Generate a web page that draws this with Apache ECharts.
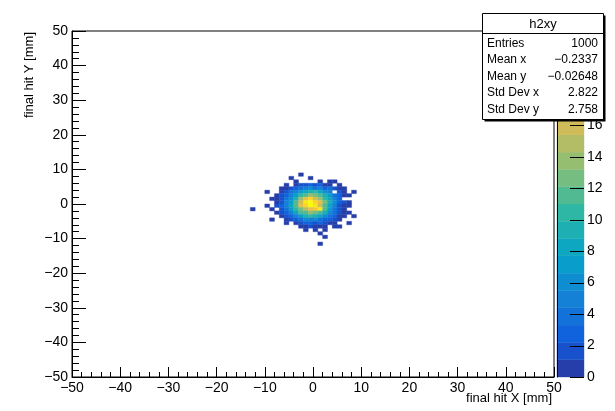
<!DOCTYPE html>
<html>
<head>
<meta charset="utf-8">
<script src="https://cdn.jsdelivr.net/npm/echarts@6/dist/echarts.min.js"></script>
<style>
  html, body { margin: 0; padding: 0; background: #fff; }
  #chart { width: 615px; height: 411px; }
</style>
</head>
<body>
<div id="chart"></div>
<script>
// Lower edges of the 1 mm bins that hold entries (x to the right, y from top row down)
const binLowX = [-13, -12, -11, -10, -9, -8, -7, -6, -5, -4, -3, -2, -1, 0, 1, 2, 3, 4, 5, 6, 7, 8];
const binLowY = [8, 7, 6, 5, 4, 3, 2, 1, 0, -1, -2, -3, -4, -5, -6, -7, -8, -9, -10, -11, -12];

// Bin contents, one row per y bin (same order as binLowY), one column per x bin
const counts = [
  [0,0,0,0,0,0,0,0,0,0,1,0,0,0,0,0,0,0,0,0,0,0],
  [0,0,0,0,0,0,0,0,1,0,0,0,1,0,0,0,0,0,0,0,0,0],
  [0,0,0,0,0,0,0,0,0,1,0,0,0,0,1,0,1,1,0,0,0,0],
  [0,0,0,0,0,0,0,1,0,1,2,2,3,2,3,1,1,0,1,0,0,0],
  [0,0,0,0,0,0,1,1,2,3,4,5,6,4,5,3,4,2,1,1,0,0],
  [0,0,0,1,0,0,1,2,4,5,7,8,9,10,8,6,5,0,2,1,0,1],
  [0,0,0,0,0,1,2,3,5,7,10,12,14,13,12,9,7,4,3,1,1,0],
  [0,0,0,0,1,1,2,4,6,9,14,17,19,16,14,10,8,5,3,0,0,0],
  [0,0,0,0,0,1,2,5,7,11,16,20,21,19,17,13,9,6,3,2,1,0],
  [0,0,0,1,0,2,3,5,8,12,17,19,22,20,16,12,8,5,2,1,1,0],
  [1,0,0,0,1,0,2,4,7,10,13,15,17,18,20,11,7,4,2,1,0,0],
  [0,0,0,0,0,1,2,3,5,8,11,12,14,13,11,9,6,4,2,1,1,0],
  [0,0,0,0,0,0,1,2,3,5,7,9,10,9,8,6,4,3,1,1,0,1],
  [0,0,0,0,1,0,0,1,2,3,4,6,5,6,4,3,3,2,1,0,0,0],
  [0,0,0,0,0,0,0,1,0,1,2,3,3,2,3,2,1,1,0,0,1,0],
  [0,0,0,0,0,0,0,0,0,0,1,1,2,1,1,1,0,1,1,0,0,0],
  [0,0,0,0,0,0,0,0,0,0,0,1,0,1,0,1,0,0,0,0,0,0],
  [0,0,0,0,0,0,0,0,0,0,0,0,0,0,1,0,0,0,0,0,0,0],
  [0,0,0,0,0,0,0,0,0,0,0,0,0,0,0,1,0,0,0,0,0,0],
  [0,0,0,0,0,0,0,0,0,0,0,0,0,0,0,0,0,0,0,0,0,0],
  [0,0,0,0,0,0,0,0,0,0,0,0,0,0,1,0,0,0,0,0,0,0]
];

// Statistics panel
const statsTitle = 'h2xy';
const statLabels = ['Entries', 'Mean x', 'Mean y', 'Std Dev x', 'Std Dev y'];
const statValues = ['1000', '\u22120.2337', '\u22120.02648', '2.822', '2.758'];

// Axis titles
const xTitle = 'final hit X [mm]';
const yTitle = 'final hit Y [mm]';

// Colour scale
const zMax = 22;
const nContours = 20;
const zTicks = [0, 2, 4, 6, 8, 10, 12, 14, 16, 18, 20, 22];

// "Bird" palette stops
const birdStops = [0.0, 0.125, 0.25, 0.375, 0.5, 0.625, 0.75, 0.875, 1.0];
const birdR = [0.2082, 0.0592, 0.0780, 0.0232, 0.1802, 0.5301, 0.8186, 0.9956, 0.9764];
const birdG = [0.1664, 0.3599, 0.5041, 0.6419, 0.7178, 0.7492, 0.7328, 0.7862, 0.9832];
const birdB = [0.5293, 0.8684, 0.8385, 0.7914, 0.6425, 0.4662, 0.3499, 0.1968, 0.0539];

function bird(t) {
  let i = 0;
  while (i < birdStops.length - 2 && t > birdStops[i + 1]) i++;
  const f = Math.min(1, Math.max(0, (t - birdStops[i]) / (birdStops[i + 1] - birdStops[i])));
  const c = a => Math.round(255 * (a[i] + (a[i + 1] - a[i]) * f));
  return 'rgb(' + c(birdR) + ',' + c(birdG) + ',' + c(birdB) + ')';
}

const bandColors = [];
for (let i = 0; i < nContours; i++) bandColors.push(bird((i + 0.99) / nContours));

function colorFor(v) {
  let b = Math.floor(0.01 + v / (zMax / nContours));
  if (b < 0) b = 0;
  if (b > nContours - 1) b = nContours - 1;
  return bandColors[b];
}

// Cells [xLow, yLow, content] for non-empty bins
const cells = [];
counts.forEach((row, r) => {
  row.forEach((v, c) => {
    if (v > 0) cells.push([binLowX[c], binLowY[r], v]);
  });
});

// Colour-bar bands [low, high, index]
const bands = [];
for (let i = 0; i < nContours; i++) {
  bands.push([i * zMax / nContours, (i + 1) * zMax / nContours, i]);
}

const FONT = '"Liberation Sans", Arial, Helvetica, sans-serif';
const fmtMinus = v => String(v).replace('-', '\u2212');

const chart = echarts.init(document.getElementById('chart'), null, { renderer: 'canvas' });

const frameAxis = (extra) => Object.assign({
  type: 'value',
  min: -50,
  max: 50,
  interval: 10,
  z: 5,
  axisLine: { show: true, onZero: false, lineStyle: { color: '#000', width: 1 } },
  splitLine: { show: false },
  axisLabel: { color: '#000', fontSize: 14, fontFamily: FONT, formatter: fmtMinus }
}, extra);

const statsGraphics = [
  { type: 'rect', z: 100, shape: { x: 484.5, y: 15.5, width: 121, height: 106 }, style: { fill: '#000' } },
  { type: 'rect', z: 101, shape: { x: 482.5, y: 13.5, width: 121, height: 106 }, style: { fill: '#fff', stroke: '#000', lineWidth: 1 } },
  { type: 'line', z: 102, shape: { x1: 482.5, y1: 33.5, x2: 603.5, y2: 33.5 }, style: { stroke: '#000', lineWidth: 1 } },
  { type: 'text', z: 102, x: 543, y: 24, style: { text: statsTitle, font: '13px ' + FONT, fill: '#000', align: 'center', verticalAlign: 'middle' } }
];
statLabels.forEach((lab, i) => {
  const y = 43.5 + i * 16.5;
  statsGraphics.push({ type: 'text', z: 102, x: 487, y: y, style: { text: lab, font: '12px ' + FONT, fill: '#000', align: 'left', verticalAlign: 'middle' } });
  statsGraphics.push({ type: 'text', z: 102, x: 598, y: y, style: { text: statValues[i], font: '12px ' + FONT, fill: '#000', align: 'right', verticalAlign: 'middle' } });
});

const option = {
  backgroundColor: '#fff',
  animation: false,
  grid: [
    { left: 72, top: 31, width: 482, height: 346, show: true, borderColor: '#000', borderWidth: 1, backgroundColor: 'transparent' },
    { left: 557, top: 31, width: 27, height: 346, show: false }
  ],
  xAxis: [
    frameAxis({
      gridIndex: 0,
      axisTick: { show: true, inside: true, length: 10, lineStyle: { color: '#000' } },
      minorTick: { show: true, splitNumber: 5, length: 5, lineStyle: { color: '#000' } },
      axisLabel: { color: '#000', fontSize: 14, fontFamily: FONT, margin: 4, formatter: fmtMinus }
    }),
    { gridIndex: 1, type: 'value', min: 0, max: 1, show: false }
  ],
  yAxis: [
    frameAxis({
      gridIndex: 0,
      axisTick: { show: true, inside: true, length: 14, lineStyle: { color: '#000' } },
      minorTick: { show: true, splitNumber: 5, length: 7, lineStyle: { color: '#000' } },
      axisLabel: { color: '#000', fontSize: 14, fontFamily: FONT, margin: 4, formatter: fmtMinus }
    }),
    {
      gridIndex: 1, type: 'value', position: 'right', min: 0, max: zMax, interval: 2, z: 10,
      axisLine: { show: true, lineStyle: { color: '#000', width: 1 } },
      axisTick: { show: false },
      splitLine: { show: false },
      axisLabel: { color: '#000', fontSize: 14, fontFamily: FONT, margin: 3 }
    }
  ],
  series: [
    {
      type: 'custom',
      xAxisIndex: 0,
      yAxisIndex: 0,
      clip: true,
      z: 1,
      data: cells,
      renderItem: function (params, api) {
        const x0 = api.value(0), y0 = api.value(1), v = api.value(2);
        const p0 = api.coord([x0, y0 + 1]);
        const p1 = api.coord([x0 + 1, y0]);
        const col = colorFor(v);
        return {
          type: 'rect',
          shape: { x: p0[0], y: p0[1], width: p1[0] - p0[0], height: p1[1] - p0[1] },
          style: { fill: col, stroke: col, lineWidth: 0.4 }
        };
      }
    },
    {
      // colour-bar bands
      type: 'custom',
      xAxisIndex: 1,
      yAxisIndex: 1,
      z: 1,
      data: bands,
      renderItem: function (params, api) {
        const lo = api.value(0), hi = api.value(1), idx = api.value(2);
        const p0 = api.coord([0, hi]);
        const p1 = api.coord([1, lo]);
        return {
          type: 'rect',
          shape: { x: p0[0], y: p0[1], width: p1[0] - p0[0], height: p1[1] - p0[1] },
          style: { fill: bandColors[idx], stroke: bandColors[idx], lineWidth: 0.4 }
        };
      }
    },
    {
      // colour-bar ticks, drawn from the right edge into the bar
      type: 'custom',
      xAxisIndex: 1,
      yAxisIndex: 1,
      z: 3,
      data: zTicks.map(v => [v]),
      renderItem: function (params, api) {
        const p = api.coord([1, api.value(0)]);
        const y = Math.round(p[1]) + 0.5;
        return {
          type: 'line',
          shape: { x1: p[0] - 14, y1: y, x2: p[0], y2: y },
          style: { stroke: '#000', lineWidth: 1 }
        };
      }
    }
  ],
  graphic: [
    { type: 'text', z: 50, x: 552, y: 398, style: { text: xTitle, font: '13px ' + FONT, fill: '#000', align: 'right', verticalAlign: 'middle' } },
    { type: 'text', z: 50, x: 29, y: 32, rotation: Math.PI / 2, style: { text: yTitle, font: '13px ' + FONT, fill: '#000', align: 'right', verticalAlign: 'middle' } }
  ].concat(statsGraphics)
};

chart.setOption(option);
</script>
</body>
</html>
